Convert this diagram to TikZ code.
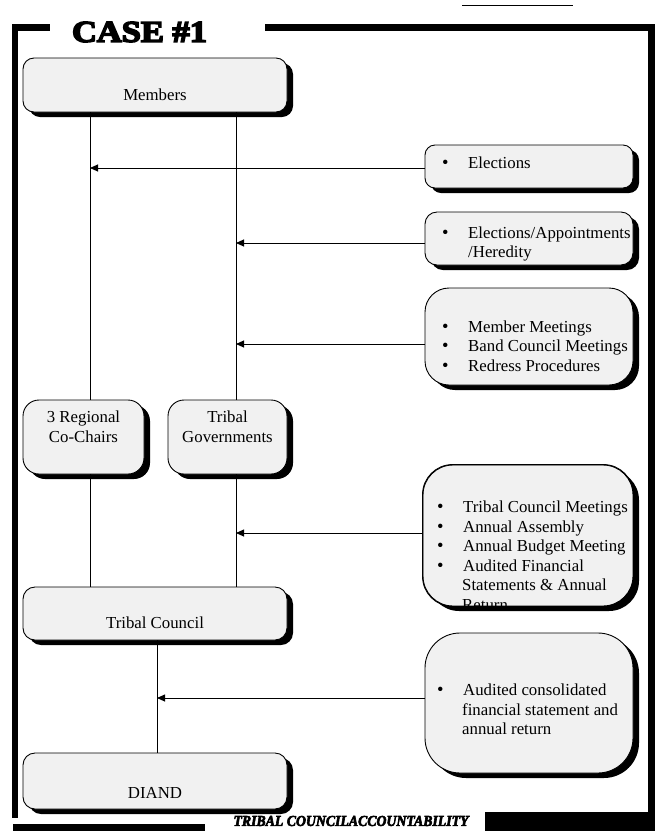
\documentclass[tikz,border=0pt]{standalone}
\usepackage{fontspec}
\usepackage{graphicx}
\setmainfont{Liberation Serif}
\newfontfamily\casefont{Liberation Serif}[FakeBold=5]
\newfontfamily\footfont{Liberation Serif}[FakeBold=4]
\usetikzlibrary{arrows.meta,shadows,calc}
\definecolor{boxgray}{HTML}{F1F1F1}
\tikzset{
  box/.style={draw=black, line width=0.9pt, fill=boxgray, inner sep=0pt,
    drop shadow={shadow xshift=6pt, shadow yshift=-5pt, fill=black, opacity=1}},
  txt/.style={font=\fontsize{16.8}{19.5}\selectfont, inner sep=0pt},
  item/.style={txt, anchor=base west},
  ctr/.style={txt, anchor=base},
  link/.style={line width=0.9pt, draw=black},
  arr/.style={link, -{Triangle[length=8pt,width=7pt]}},
}
\newcommand{\bul}{\makebox[26pt][l]{\scalebox{1.1}{\textbullet}}}
\begin{document}
\begin{tikzpicture}[x=1pt,y=-1pt]
\useasboundingbox (0,0) rectangle (655,831);

% heavy frame
\fill[black] (12,24) rectangle (50,31);
\fill[black] (12,24) rectangle (18,818);
\fill[black] (265,24) rectangle (655,31);
\fill[black] (648,24) rectangle (655,812);
\fill[black] (13,824) rectangle (205,831);
\fill[black] (485,812) rectangle (655,831);
\draw[black, line width=0.8pt] (462,5) -- (573,5);

% title and footer
\node[inner sep=0pt] (case) at (139.5,32) {\resizebox{135pt}{20pt}{\casefont\bfseries CASE \#1}};
\node[inner sep=0pt] (foot) at (351,821) {\resizebox{235pt}{10pt}{\footfont\bfseries\itshape TRIBAL COUNCILACCOUNTABILITY}};

% left column boxes
\node[box, minimum width=264pt, minimum height=54pt, rounded corners=11pt] (members) at (155,85) {};
\node[box, minimum width=121pt, minimum height=74pt, rounded corners=16pt] (regional) at (83.5,437) {};
\node[box, minimum width=119pt, minimum height=74pt, rounded corners=16pt] (tribgov) at (227.5,437) {};
\node[box, minimum width=264pt, minimum height=53pt, rounded corners=12pt] (council) at (155,613.5) {};
\node[box, minimum width=264pt, minimum height=56pt, rounded corners=12pt] (diand) at (155,781) {};

\node[ctr] (members-t) at (155,100.5) {Members};
\node[ctr] (regional-t1) at (83.5,422.5) {3 Regional};
\node[ctr] (regional-t2) at (83.5,442) {Co-Chairs};
\node[ctr] (tribgov-t1) at (227.5,422.5) {Tribal};
\node[ctr] (tribgov-t2) at (227.5,442) {Governments};
\node[ctr] (council-t) at (155,628.5) {Tribal Council};
\node[ctr] (diand-t) at (155,798.5) {DIAND};

% right column boxes
\node[box, minimum width=208pt, minimum height=43pt, rounded corners=10pt] (b1) at (529,166.5) {};
\node[box, minimum width=208pt, minimum height=53pt, rounded corners=12pt] (b2) at (529,238.5) {};
\node[box, minimum width=208pt, minimum height=97pt, rounded corners=24pt] (b3) at (529,336.5) {};
\node[box, minimum width=210pt, minimum height=141pt, rounded corners=30pt] (b4) at (528,535.5) {};
\node[box, minimum width=208pt, minimum height=140pt, rounded corners=35pt] (b5) at (529,703) {};

\node[item] (b1-1) at (442,168.5) {\bul Elections};
\node[item] (b2-1) at (442,238.5) {\bul Elections/Appointments};
\node[item] (b2-2) at (468,257.5) {/Heredity};
\node[item] (b3-1) at (442,332.5) {\bul Member Meetings};
\node[item] (b3-2) at (442,351.5) {\bul Band Council Meetings};
\node[item] (b3-3) at (442,371) {\bul Redress Procedures};

% the last line runs past the bottom edge and is cut off by it
\begin{scope}
  \clip[rounded corners=30pt] (b4.south west) rectangle (b4.north east);
  \node[item] (b4-1) at (437,512.5) {\bul Tribal Council Meetings};
  \node[item] (b4-2) at (437,532) {\bul Annual Assembly};
  \node[item] (b4-3) at (437,551.5) {\bul Annual Budget Meeting};
  \node[item] (b4-4) at (437,571) {\bul Audited Financial};
  \node[item] (b4-5) at (462,590.5) {Statements \& Annual};
  \node[item] (b4-6) at (462,610) {Return};
\end{scope}
\draw[line width=0.9pt, rounded corners=30pt] (b4.south west) rectangle (b4.north east);

\node[item] (b5-1) at (437,695.5) {\bul Audited consolidated};
\node[item] (b5-2) at (462,715) {financial statement and};
\node[item] (b5-3) at (462,734.5) {annual return};

% connector positions
\coordinate (colA) at (90,0);
\coordinate (colB) at (236,0);
\coordinate (colC) at (157,0);
\coordinate (a1) at (90,168);
\coordinate (a2) at (236,243);
\coordinate (a3) at (236,344);
\coordinate (a4) at (236,533);
\coordinate (a5) at (157,698);

% vertical links
\draw[link] (members.south -| colA) -- (regional.north -| colA);
\draw[link] (members.south -| colB) -- (tribgov.north -| colB);
\draw[link] (regional.south -| colA) -- (council.north -| colA);
\draw[link] (tribgov.south -| colB) -- (council.north -| colB);
\draw[link] (council.south -| colC) -- (diand.north -| colC);

% accountability arrows
\draw[arr] (a1 -| b1.west) -- (a1);
\draw[arr] (a2 -| b2.west) -- (a2);
\draw[arr] (a3 -| b3.west) -- (a3);
\draw[arr] (a4 -| b4.west) -- (a4);
\draw[arr] (a5 -| b5.west) -- (a5);
\end{tikzpicture}
\end{document}
